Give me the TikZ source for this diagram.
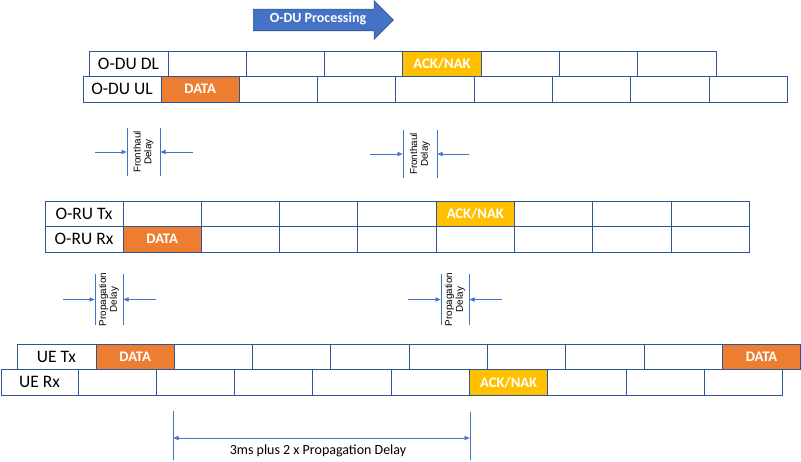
\documentclass[tikz,border=0pt]{standalone}
\usepackage{fontspec}
\setmainfont{Carlito}
\newfontfamily\narrowfont{Liberation Sans}
\usetikzlibrary{arrows.meta, positioning, shapes.arrows}
\definecolor{cellline}{HTML}{2F5597}
\definecolor{dataorange}{HTML}{ED7D31}
\definecolor{ackgold}{HTML}{FFC000}
\definecolor{markblue}{HTML}{4472C4}
\definecolor{procedge}{HTML}{2F528F}

\def\cw{78.3}
\tikzset{
  cell/.style={draw=cellline, line width=0.9pt, anchor=north west, inner sep=0pt, outer sep=0pt,
    minimum width=\cw pt, minimum height=25.5pt},
  lblcell/.style={cell, font=\fontsize{17.5}{19}\selectfont},
  datacell/.style={cell, fill=dataorange, text=white, font=\bfseries\fontsize{14.6}{17}\selectfont},
  ackcell/.style={datacell, fill=ackgold},
  procarrow/.style={single arrow, draw=procedge, fill=markblue, line width=0.6pt, text=white,
    font=\bfseries\fontsize{14}{16}\selectfont, minimum height=140pt, single arrow head extend=8.5pt,
    text height=9pt, text depth=3pt, inner ysep=4.5pt, inner xsep=2pt},
  delayline/.style={draw=markblue, line width=0.9pt},
  delayarrow/.style={delayline, -{Latex[length=5.5pt, width=5pt]}},
  delaytxt/.style={rotate=90, align=center, inner sep=0pt, font=\narrowfont\fontsize{9.9}{10.7}\selectfont}
}

\begin{document}
\begin{tikzpicture}[x=1pt, y=-1pt]
  \useasboundingbox (0,0) rectangle (801,462);

  % --- O-DU processing arrow ---
  \node[procarrow] (proc) at (318,20) {O-DU Processing};

  % --- O-DU DL / UL ---
  \node[lblcell, minimum width=79pt] (dl) at (89,51) {O-DU DL};
  \foreach \i in {1,2,3,5,6,7}
    \node[cell] (dl-\i) at ({168+(\i-1)*\cw},51) {};
  \node[ackcell] (dl-4) at ({168+3*\cw},51) {ACK/NAK};

  \node[lblcell, minimum width=78pt] (ul) at (83,76.5) {O-DU UL};
  \node[datacell] (ul-1) at (161,76.5) {DATA};
  \foreach \i in {2,...,8}
    \node[cell] (ul-\i) at ({161+(\i-1)*\cw},76.5) {};

  % --- O-RU Tx / Rx ---
  \node[lblcell, minimum width=78pt] (rutx) at (45,201) {O-RU Tx};
  \foreach \i in {1,2,3,4,6,7,8}
    \node[cell] (rutx-\i) at ({123+(\i-1)*\cw},201) {};
  \node[ackcell] (rutx-5) at ({123+4*\cw},201) {ACK/NAK};

  \node[lblcell, minimum width=78pt] (rurx) at (45,226.5) {O-RU Rx};
  \node[datacell] (rurx-1) at (123,226.5) {DATA};
  \foreach \i in {2,...,8}
    \node[cell] (rurx-\i) at ({123+(\i-1)*\cw},226.5) {};

  % --- UE Tx / Rx ---
  \node[lblcell, minimum width=79pt] (uetx) at (17,344) {UE Tx};
  \node[datacell] (uetx-1) at (96,344) {DATA};
  \foreach \i in {2,...,8}
    \node[cell] (uetx-\i) at ({96+(\i-1)*\cw},344) {};
  \node[datacell] (uetx-9) at ({96+8*\cw},344) {DATA};

  \node[lblcell, minimum width=77pt] (uerx) at (1,369.5) {UE Rx};
  \foreach \i in {1,2,3,4,5,7,8,9}
    \node[cell] (uerx-\i) at ({78+(\i-1)*\cw},369.5) {};
  \node[ackcell] (uerx-6) at ({78+5*\cw},369.5) {ACK/NAK};

  % --- fronthaul / propagation delay markers ---
  \foreach \nm/\xa/\xb/\ya/\yb/\xl/\xr/\txt in {
      fh1/127/160/128/176/95/193/Fronthaul,
      fh2/403/437/130/178/370/469/Fronthaul,
      pd1/95/123/274/325/63/156/Propagation,
      pd2/441/469/274/325/408/502/Propagation}{
    \coordinate (\nm-at) at (\xa,\ya);
    \coordinate (\nm-ab) at (\xa,\yb);
    \coordinate (\nm-bt) at (\xb,\ya);
    \coordinate (\nm-bb) at (\xb,\yb);
    \coordinate (\nm-l) at (\xl,{(\ya+\yb)/2});
    \coordinate (\nm-r) at (\xr,{(\ya+\yb)/2});
    \coordinate (\nm-am) at (\xa,{(\ya+\yb)/2});
    \coordinate (\nm-bm) at (\xb,{(\ya+\yb)/2});
    \draw[delayline] (\nm-at) -- (\nm-ab);
    \draw[delayline] (\nm-bt) -- (\nm-bb);
    \draw[delayarrow] (\nm-l) -- (\nm-am);
    \draw[delayarrow] (\nm-r) -- (\nm-bm);
    \node[delaytxt] (\nm-txt) at ({(\xa+\xb)/2},{(\ya+\yb)/2}) {\txt\\Delay};
  }

  % --- round trip ---
  \coordinate (rt-at) at (173,411);
  \coordinate (rt-ab) at (173,460);
  \coordinate (rt-bt) at (470,412);
  \coordinate (rt-bb) at (470,460);
  \coordinate (rt-am) at (173,438);
  \coordinate (rt-bm) at (470,438);
  \draw[delayline] (rt-at) -- (rt-ab);
  \draw[delayline] (rt-bt) -- (rt-bb);
  \draw[delayline, {Latex[length=5.5pt, width=5pt]}-{Latex[length=5.5pt, width=5pt]}] (rt-am) -- (rt-bm);
  \node[font=\fontsize{14}{16}\selectfont] (rt-txt) at (318,451) {3ms plus 2 x Propagation Delay};
\end{tikzpicture}
\end{document}
